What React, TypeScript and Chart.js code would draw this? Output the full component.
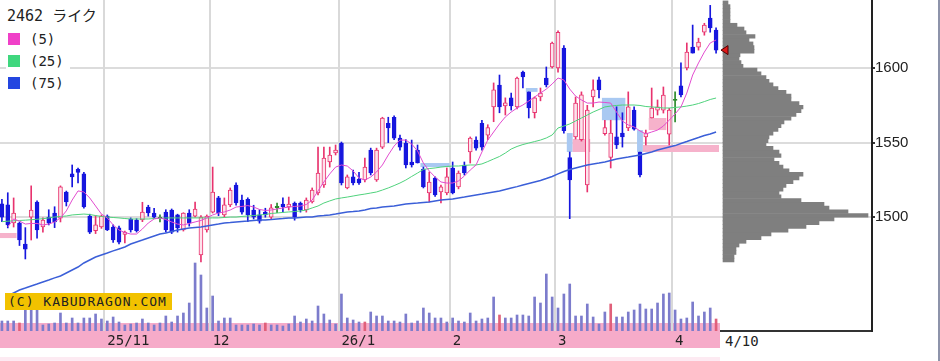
import React, { useEffect, useRef } from 'react';
import { Chart, registerables } from 'chart.js';

Chart.register(...registerables);

// ---- calendar (trading days shown) ----
const monthKeys = ['2025-10', '2025-11', '2025-12', '2026-01', '2026-02', '2026-03', '2026-04'];
const monthTickLabels = ['', '25/11', '12', '26/1', '2', '3', '4'];
const tradingDays = [
  [7, 8, 9, 10, 14, 15, 16, 17, 20, 21, 22, 23, 24, 27, 28, 29, 30, 31],
  [4, 5, 6, 7, 10, 11, 12, 13, 14, 17, 18, 19, 20, 21, 25, 26, 27, 28],
  [1, 2, 3, 4, 5, 8, 9, 10, 11, 12, 15, 16, 17, 18, 19, 22, 23, 24, 25, 26, 29, 30],
  [5, 6, 7, 8, 9, 13, 14, 15, 16, 19, 20, 21, 22, 23, 26, 27, 28, 29, 30],
  [2, 3, 4, 5, 6, 9, 10, 12, 13, 16, 17, 18, 19, 20, 24, 25, 26, 27],
  [2, 3, 4, 5, 6, 9, 10, 11, 12, 13, 16, 17, 18, 19, 23, 24, 25, 26, 27, 30],
  [1, 2, 3, 6, 7, 8, 9, 10],
];
const lastDateLabel = '4/10';

// ---- OHLC ----
const open = [
  1509, 1508.2, 1496.1, 1496, 1482, 1500, 1510.2, 1493.4, 1500, 1502.8,
  1499.3, 1516.9, 1529, 1532, 1529, 1500.7, 1491, 1493.4, 1500.7, 1493.4,
  1492.8, 1488.5, 1498.8, 1498, 1498.1, 1506.8, 1502.8, 1499.5, 1503.4, 1504.8,
  1501.5, 1491.4, 1502.8, 1500.7, 1474.7, 1491.4, 1503.4, 1512.9, 1501.5, 1508.2,
  1521.6, 1511.5, 1512, 1504.8, 1501.5, 1503.4, 1500, 1506.8, 1508.8, 1506.8,
  1509.5, 1509.5, 1504.8, 1510.2, 1516.2, 1521.6, 1537, 1543, 1549.7, 1519.6,
  1527, 1525.6, 1524.9, 1545, 1524.9, 1547, 1563, 1567, 1553, 1549.7,
  1537, 1545, 1532.3, 1516.2, 1526.3, 1516.9, 1516.2, 1533, 1520.3, 1535,
  1543.7, 1551.7, 1563, 1555, 1574, 1588.6, 1574.6, 1580, 1574, 1597.3,
  1584, 1570, 1580.6, 1593.3, 1600.7, 1600, 1613.4, 1540, 1553.8, 1552,
  1521.6, 1580.6, 1592, 1556, 1540, 1553.8, 1556.4, 1559.8, 1571.8, 1543.7,
  1553.8, 1566.5, 1571.8, 1571.8, 1555.7, 1578.6, 1588, 1600, 1614, 1614,
  1624, 1633.5, 1625.5,
];
const high = [
  1512, 1516.4, 1512.9, 1496.8, 1493, 1521, 1511, 1499.5, 1505, 1507,
  1521, 1517.5, 1535, 1533, 1530, 1502, 1501, 1501.5, 1501.5, 1494.8,
  1494, 1490.7, 1499.5, 1499, 1510, 1508, 1506, 1501.5, 1505, 1505.5,
  1502, 1503, 1505, 1510.2, 1501, 1501.5, 1533.6, 1514, 1512.9, 1519.6,
  1523, 1514.9, 1513, 1508, 1505, 1506, 1508.5, 1509.5, 1512.9, 1513.5,
  1510.2, 1510.2, 1512.9, 1519.6, 1547, 1547, 1547, 1548.4, 1550.4, 1528.3,
  1531.6, 1530, 1539.7, 1546.3, 1546.3, 1567, 1567, 1568, 1555, 1552,
  1551.7, 1548.4, 1533.6, 1530.3, 1527, 1521.6, 1533, 1537, 1531, 1537,
  1553.8, 1553.8, 1565, 1562, 1590, 1595.3, 1580, 1583.2, 1594, 1598,
  1584, 1580.6, 1586.6, 1600.7, 1617.4, 1625, 1615, 1543.7, 1580.6, 1584,
  1575, 1592, 1594, 1565, 1565, 1574, 1570, 1584, 1574, 1543.7,
  1558.4, 1586.6, 1578.6, 1587.3, 1573, 1584, 1603.4, 1616.8, 1628.8, 1620,
  1630, 1642, 1627,
];
const low = [
  1497, 1492.8, 1493.4, 1481, 1472, 1484.7, 1486, 1490, 1494.8, 1493,
  1496.8, 1507.5, 1520.3, 1523, 1506, 1489, 1489, 1492.5, 1491, 1483,
  1482, 1482.7, 1490, 1490, 1497, 1500.7, 1499, 1496.8, 1490, 1489,
  1490, 1490.7, 1494, 1500, 1470, 1490, 1502.8, 1501, 1500, 1507,
  1508, 1502, 1497, 1498.8, 1496, 1500, 1499, 1503, 1503.4, 1504.8,
  1498, 1503.4, 1503.4, 1509.5, 1515, 1520, 1533.6, 1541.7, 1521.6, 1519,
  1521.6, 1522, 1523.6, 1528.3, 1524, 1546, 1550, 1552, 1545, 1533,
  1533.6, 1536.3, 1519.6, 1510.2, 1514, 1509.5, 1515, 1515.6, 1519, 1528.3,
  1536.3, 1545, 1545, 1552, 1564, 1570, 1568.5, 1571.8, 1572.5, 1586.6,
  1566.5, 1566.5, 1578, 1587.3, 1600, 1597.3, 1556.4, 1499, 1552.4, 1551,
  1516.9, 1573.9, 1580, 1555, 1533, 1546, 1547, 1558, 1558.4, 1527,
  1548.4, 1566.5, 1568.5, 1569.8, 1548.4, 1563.8, 1580.6, 1598.7, 1610, 1612,
  1622, 1624, 1610,
];
const close = [
  1500, 1494.8, 1502.8, 1484.7, 1478.5, 1504.8, 1491.4, 1498.1, 1496, 1496.8,
  1520.3, 1510.2, 1527, 1530, 1506.8, 1490, 1494.8, 1500.7, 1491.4, 1484.7,
  1483.3, 1490, 1491.4, 1491, 1503.4, 1502.8, 1500, 1499.5, 1491.4, 1490,
  1492.8, 1502.8, 1496, 1505.5, 1500, 1500.7, 1516.9, 1502.8, 1508.2, 1518.2,
  1509.5, 1503.4, 1501.5, 1500, 1497.4, 1501.5, 1506.2, 1506.8, 1506.8, 1508.8,
  1500, 1504.8, 1511.5, 1518.2, 1529.6, 1539.7, 1541.7, 1545, 1523, 1527,
  1523, 1523, 1533.6, 1529.6, 1545, 1566.5, 1559.8, 1553, 1547, 1535,
  1535, 1536.3, 1520.3, 1523.6, 1515, 1520.3, 1527, 1516.2, 1529.6, 1529.6,
  1553, 1546.3, 1547, 1560, 1585.3, 1574, 1576.6, 1574.6, 1593.3, 1594,
  1573.2, 1580, 1583.2, 1588.6, 1616.8, 1624, 1558, 1525, 1576.5, 1582,
  1571.8, 1585.3, 1585.3, 1560, 1556.4, 1548.4, 1553.8, 1573.9, 1559, 1528.3,
  1556.4, 1573.2, 1573.9, 1581.9, 1571.8, 1578.6, 1582, 1610.7, 1610, 1617.4,
  1628.8, 1626.8, 1612,
];

// ---- moving averages ----
const ma5 = [
  null, 1493.4, 1498.8, 1497.4, 1495.4, 1495.8, 1495.8, 1494.8, 1495.4, 1496.8,
  1499.5, 1504.2, 1511.5, 1517.6, 1516.9, 1512.9, 1507.5, 1502.1, 1499.5, 1494.8,
  1491.4, 1489.7, 1488.7, 1488.7, 1492.1, 1496.1, 1498.8, 1499.5, 1498.4, 1496.8,
  1495.4, 1494.8, 1495.8, 1496.8, 1497.8, 1499.5, 1501.5, 1502.8, 1503.5, 1504.8,
  1506.8, 1507.2, 1507.8, 1506.8, 1505.2, 1504.5, 1504.8, 1505.5, 1506.2, 1506.8,
  1507.2, 1507.5, 1508.5, 1511.5, 1517.6, 1523.6, 1529, 1533.6, 1535, 1534.3,
  1531, 1526.3, 1524.9, 1526.9, 1530.3, 1535, 1541.7, 1547.7, 1551.7, 1551.7,
  1549.1, 1544.4, 1536.3, 1531, 1526.9, 1523.6, 1522.9, 1522.9, 1524.3, 1527.6,
  1531.6, 1535, 1543.7, 1551.7, 1557.1, 1562.5, 1567.2, 1570.5, 1573.2, 1575.2,
  1577.9, 1580.6, 1583.2, 1585.9, 1589.3, 1593.3, 1592, 1585.9, 1581.2, 1578.6,
  1576.5, 1576.5, 1577.2, 1576.9, 1576.5, 1570.5, 1564.5, 1561.8, 1560.5, 1557.8,
  1555.8, 1557.1, 1558.4, 1561.1, 1565.1, 1569.2, 1573.9, 1583.2, 1595.3, 1603.4,
  1610.7, 1616.8, 1618.8,
];
const ma25 = [
  1497, 1497.3, 1497.6, 1497.8, 1498, 1498.3, 1498.6, 1499, 1499.5, 1500.1,
  1500.5, 1500.8, 1501.5, 1501.8, 1502.1, 1501.8, 1501.1, 1500.5, 1500.1, 1499.8,
  1499.5, 1499.1, 1498.8, 1498.8, 1498.8, 1498.8, 1499.1, 1499.1, 1499.5, 1499.5,
  1499.5, 1499.5, 1499.5, 1499.5, 1499.5, 1499.5, 1499.5, 1499.5, 1499.8, 1500.1,
  1500.1, 1500.5, 1500.8, 1501.1, 1501.5, 1501.8, 1502.5, 1502.8, 1503.2, 1503.5,
  1503.8, 1504.2, 1504.8, 1506.2, 1507.5, 1509.5, 1510.9, 1512.2, 1512.9, 1513.5,
  1514.2, 1514.9, 1515.5, 1516.2, 1516.9, 1518.2, 1519.6, 1521.2, 1522.9, 1524.9,
  1527.3, 1529.6, 1532, 1532.6, 1533, 1533.6, 1534, 1534.3, 1534.3, 1534.7,
  1535, 1535, 1535.7, 1537.3, 1539, 1540.7, 1543, 1545.7, 1547.4, 1548.7,
  1549.7, 1550.7, 1551.7, 1553.1, 1555.1, 1559.8, 1561.1, 1562.5, 1564.5, 1566.5,
  1568.5, 1570.5, 1572.2, 1573.9, 1574.5, 1574.9, 1575.2, 1575.2, 1575.2, 1574.9,
  1574.2, 1573.9, 1573.6, 1573.2, 1573.2, 1573.6, 1573.9, 1574.5, 1575.2, 1576.2,
  1577.5, 1578.9, 1579.9,
];
const ma75 = [
  null, 1447.2, 1449.2, 1451.2, 1452.5, 1453.9, 1455.2, 1456.6, 1457.9, 1459.3,
  1460.6, 1462.6, 1464.6, 1466.6, 1469.3, 1471.3, 1473.3, 1474.7, 1476, 1477.4,
  1478.7, 1480, 1482, 1483.4, 1484.7, 1486.1, 1487.4, 1488.7, 1489.4, 1490.4,
  1491.4, 1492.1, 1492.8, 1493.1, 1493.4, 1494.1, 1494.8, 1495.4, 1496.1, 1496.4,
  1496.8, 1497.1, 1497.4, 1497.8, 1498.1, 1498.1, 1498.4, 1498.8, 1499.1, 1499.5,
  1499.5, 1499.8, 1500.1, 1500.1, 1500.8, 1501.1, 1501.5, 1502.1, 1502.8, 1503.5,
  1503.8, 1504.2, 1504.8, 1505.8, 1506.2, 1506.8, 1507.2, 1507.5, 1508.2, 1508.8,
  1509.2, 1509.5, 1509.9, 1510.2, 1510.9, 1511.5, 1511.9, 1512.2, 1512.9, 1513.5,
  1514.2, 1514.9, 1515.5, 1516.2, 1516.9, 1517.6, 1518.6, 1519.6, 1520.5, 1521.6,
  1522.6, 1523.6, 1524.6, 1525.9, 1527.3, 1529, 1530.6, 1532, 1533, 1534,
  1535, 1535.7, 1536.3, 1537, 1538, 1539, 1539.7, 1540.3, 1541, 1541.7,
  1542.7, 1543.7, 1545, 1546, 1547, 1548, 1549.4, 1550.7, 1552.1, 1553.4,
  1554.8, 1555.8, 1557.1,
];

// ---- volume (shares) ----
const volume = [
  5000,
  5000, 5000, 4000, 10500, 10500, 10500, 3000, 3500, 4000, 9000,
  4000, 6500, 4000, 6500, 6500, 8500, 6000, 5000, 7000, 4500,
  3000, 3500, 4000, 6000, 4000, 3000, 4000, 7500, 4500, 7500,
  9000, 14000, 34000, 28000, 11500, 17500, 5000, 6500, 6500, 3000,
  3000, 3000, 3500, 3000, 4000, 3000, 3000, 2500, 3500, 7500,
  4500, 6000, 5000, 12500, 8500, 5500, 3500, 18500, 6500, 5500,
  4500, 4500, 9500, 7500, 7500, 5000, 5000, 4500, 8500, 4000,
  5000, 11500, 9000, 6500, 6500, 4500, 6500, 5000, 4500, 9000,
  5000,
  6000, 6500, 17000, 8000, 6500, 6500, 8000, 8000, 7500, 17000,
  14000, 28500, 17000, 11500, 18500, 23500, 7500, 7500, 13500, 7000,
  3500, 9500, 13500, 7000, 7000, 9500, 10500, 13500, 11000, 11000,
  14000, 18500, 19000, 10500, 6000, 6500, 14500, 7500, 9500, 11500,
  6000,
];
const volumeRedDays = [3, 45, 62, 85, 104, 122];

// ---- price-by-volume profile (bins of 2.5 from 1470) ----
const profileStart = 1470;
const profileStep = 2.5;
const profileVolume = [
  1100, 1100, 1300, 1300, 1600, 2300, 3800, 4800, 6500, 8300,
  9600, 11100, 14500, 12500, 10600, 10100, 7800, 5800, 5600, 6000,
  6300, 7000, 7600, 8000, 6600, 6000, 5600, 5100, 5800, 5600,
  5000, 4300, 4500, 4600, 5000, 5500, 5800, 6100, 6800, 7300,
  7800, 8000, 7600, 6800, 6800, 6300, 5500, 5000, 4600, 4300,
  3800, 3400, 2000, 1800, 1600, 1700, 3100, 3100, 3000, 2600,
  3200, 2300, 2100, 1400, 700, 700, 700, 700, 700, 500,
];

// ---- price gaps (窓) ----
const gapStart = [0, 72, 90, 97, 98, 103, 109, 110, 111];
const gapEnd = [2, 76, 91, 97, 100, 106, 109, 122, 113];
const gapLow = [1486, 1533.6, 1584, 1543.7, 1543.7, 1565, 1543.7, 1543.7, 1558.4];
const gapHigh = [1489.4, 1536.3, 1586.6, 1556.4, 1552.4, 1580, 1558.4, 1548.4, 1566.5];
const gapUp = [true, false, false, false, true, false, false, true, true];

const priceTicks = [1500, 1550, 1600];
const Y_MIN = 1423.7;
const Y_MAX = 1645.6;
const VOL_MAX = 165500;
const PROFILE_MAX = 14900;

const UP = '#e8336e';
const UP_FILL = '#fde3ec';
const DOWN = '#1616de';
const DOJI = '#2a8a2a';
const MONO = '"DejaVu Sans Mono", monospace';

export default function App() {
  const refA = useRef<HTMLCanvasElement>(null);
  const refB = useRef<HTMLCanvasElement>(null);

  useEffect(() => {
    const labels: string[] = [];
    const tickText: string[] = [];
    monthKeys.forEach((mk, mi) => {
      tradingDays[mi].forEach((d, di) => {
        labels.push(`${mk}-${String(d).padStart(2, '0')}`);
        tickText.push(di === 0 ? monthTickLabels[mi] : '');
      });
    });
    const isMonthStart = (i: number) => !!tickText[i];

    const dir = close.map((c, i) => (c > open[i] ? 1 : c < open[i] ? -1 : 0));
    const lineCol = dir.map((d) => (d > 0 ? UP : d < 0 ? DOWN : DOJI));
    const bodyFill = dir.map((d) => (d > 0 ? UP_FILL : d < 0 ? DOWN : DOJI));
    const bodies = open.map((o, i) =>
      dir[i] === 0 ? [o - 0.4, o + 0.4] : [Math.min(o, close[i]), Math.max(o, close[i])]
    );
    const wicks = low.map((l, i) => [l, high[i]]);
    const volCol = volume.map((_, i) => (volumeRedDays.includes(i) ? '#e0607a' : '#7c7ccc'));

    const gapPlugin = {
      id: 'gaps',
      beforeDatasetsDraw(chart: any) {
        const { ctx, chartArea, scales } = chart;
        const xs = scales.x;
        const ys = scales.y;
        const half = (xs.getPixelForValue(1) - xs.getPixelForValue(0)) / 2;
        ctx.save();
        ctx.beginPath();
        ctx.rect(chartArea.left, chartArea.top, chartArea.width, chartArea.height);
        ctx.clip();
        gapStart.forEach((s, i) => {
          const x0 = xs.getPixelForValue(s) - half;
          const x1 = xs.getPixelForValue(gapEnd[i]) + half;
          const y0 = ys.getPixelForValue(gapHigh[i]);
          const y1 = ys.getPixelForValue(gapLow[i]);
          ctx.fillStyle = gapUp[i] ? '#f6b2cb' : '#a9c9f2';
          ctx.fillRect(x0, y0, x1 - x0, y1 - y0);
        });
        ctx.restore();
      },
    };

    const markerPlugin = {
      id: 'lastMarker',
      afterDatasetsDraw(chart: any) {
        const { ctx, scales } = chart;
        const y = scales.y.getPixelForValue(close[close.length - 1]);
        const x = scales.x.getPixelForValue(0) - 2;
        ctx.save();
        ctx.beginPath();
        ctx.moveTo(x, y);
        ctx.lineTo(x + 7, y - 4.5);
        ctx.lineTo(x + 7, y + 4.5);
        ctx.closePath();
        ctx.fillStyle = '#e01818';
        ctx.fill();
        ctx.strokeStyle = '#500000';
        ctx.lineWidth = 1;
        ctx.stroke();
        ctx.restore();
      },
    };

    const profileData = profileVolume.map((v, i) => ({
      x: v,
      y: profileStart + profileStep * (i + 0.5),
    }));

    const noPad = (s: any) => {
      s.paddingTop = 0;
      s.paddingBottom = 0;
      s.paddingLeft = 0;
      s.paddingRight = 0;
    };

    const chartB = new Chart(refB.current as HTMLCanvasElement, {
      type: 'bar',
      data: {
        datasets: [
          {
            data: profileData as any,
            backgroundColor: '#7f7f7f',
            barPercentage: 1,
            categoryPercentage: 1,
            borderWidth: 0,
          },
        ],
      },
      options: {
        indexAxis: 'y',
        responsive: false,
        animation: false,
        events: [],
        layout: { padding: 0 },
        plugins: { legend: { display: false }, tooltip: { enabled: false } },
        scales: {
          x: {
            type: 'linear',
            offset: false,
            min: -(723 / 149) * PROFILE_MAX,
            max: PROFILE_MAX,
            grid: { display: false, drawTicks: false },
            ticks: { display: false },
            border: { display: true, color: '#333', width: 2 },
            afterFit: (s: any) => {
              s.height = 2;
              noPad(s);
            },
          },
          y: {
            type: 'linear',
            position: 'right',
            offset: false,
            min: Y_MIN,
            max: Y_MAX,
            afterBuildTicks: (s: any) => {
              s.ticks = priceTicks.map((v) => ({ value: v }));
            },
            grid: { offset: false, color: '#dcdcdc', lineWidth: 2, tickColor: '#333', tickLength: 3 },
            border: { display: true, color: '#222', width: 2 },
            ticks: {
              font: { family: '"Liberation Sans", Arial, sans-serif', size: 15 },
              color: '#222',
              padding: 0,
              callback: (v: any) => String(v),
            },
            afterFit: (s: any) => {
              s.width = 68;
              noPad(s);
            },
          },
        },
      },
      plugins: [markerPlugin],
    } as any);

    const chartA = new Chart(refA.current as HTMLCanvasElement, {
      type: 'bar',
      data: {
        labels,
        datasets: [
          {
            type: 'line',
            data: ma5,
            borderColor: '#e24ccf',
            borderWidth: 1,
            pointRadius: 0,
            order: 1,
          },
          {
            type: 'line',
            data: ma25,
            borderColor: '#4fd27c',
            borderWidth: 1,
            pointRadius: 0,
            order: 1,
          },
          {
            type: 'line',
            data: ma75,
            borderColor: '#3b5fd8',
            borderWidth: 1.5,
            pointRadius: 0,
            order: 1,
          },
          {
            type: 'bar',
            data: bodies as any,
            backgroundColor: bodyFill,
            borderColor: lineCol,
            borderWidth: 1,
            borderSkipped: false,
            barThickness: 4,
            grouped: false,
            order: 3,
          },
          {
            type: 'bar',
            data: wicks as any,
            backgroundColor: lineCol,
            borderWidth: 0,
            barThickness: 1,
            grouped: false,
            order: 4,
          },
          {
            type: 'bar',
            data: volume,
            yAxisID: 'yv',
            backgroundColor: volCol,
            borderWidth: 0,
            barThickness: 2,
            grouped: false,
            order: 5,
          },
        ],
      },
      options: {
        responsive: false,
        animation: false,
        events: [],
        layout: { padding: 0 },
        plugins: { legend: { display: false }, tooltip: { enabled: false } },
        scales: {
          x: {
            type: 'category',
            offset: true,
            grid: {
              offset: true,
              drawTicks: false,
              lineWidth: 2,
              color: (ctx: any) => (isMonthStart(ctx.index) ? '#d9d9d9' : 'rgba(0,0,0,0)'),
            },
            border: { display: false },
            ticks: {
              autoSkip: false,
              maxRotation: 0,
              minRotation: 0,
              align: 'start',
              padding: 2,
              color: '#222',
              font: { family: MONO, size: 14 },
              callback: (_v: any, i: number) => tickText[i],
            },
            afterFit: (s: any) => {
              s.height = 17;
              noPad(s);
            },
          },
          y: { display: false, min: Y_MIN, max: Y_MAX },
          yv: { display: false, min: 0, max: VOL_MAX },
        },
      },
      plugins: [gapPlugin],
    } as any);

    return () => {
      chartA.destroy();
      chartB.destroy();
    };
  }, []);

  const legendItems = [
    { color: '#f040c8', text: '(5)' },
    { color: '#3fd77e', text: '(25)' },
    { color: '#2346e0', text: '(75)' },
  ];

  return (
    <div
      style={{
        position: 'absolute',
        left: 0,
        top: 0,
        width: 940,
        height: 361,
        background: '#fff',
        overflow: 'hidden',
      }}
    >
      <canvas
        ref={refB}
        width={940}
        height={333}
        style={{ position: 'absolute', left: 0, top: 0, width: 940, height: 333 }}
      />
      <div
        style={{ position: 'absolute', left: 0, top: 323, width: 720, height: 25, background: '#f6abc9' }}
      />
      <div
        style={{ position: 'absolute', left: 0, top: 357, width: 720, height: 4, background: '#fdeaf2' }}
      />
      <canvas
        ref={refA}
        width={720}
        height={348}
        style={{ position: 'absolute', left: -1, top: 0, width: 720, height: 348 }}
      />
      <div
        style={{
          position: 'absolute',
          left: 6,
          top: 6,
          padding: '1px 3px 2px 1px',
          background: '#fff',
          fontFamily: '"DejaVu Sans Mono", "Noto Sans CJK JP", monospace',
          fontSize: 15,
          color: '#222',
          lineHeight: '19px',
          whiteSpace: 'nowrap',
        }}
      >
        2462 ライク
      </div>
      <div
        style={{
          position: 'absolute',
          left: 6,
          top: 29,
          width: 64,
          height: 66,
          background: '#fff',
        }}
      >
        {legendItems.map((it, i) => (
          <div
            key={i}
            style={{ position: 'absolute', left: 2, top: 4 + i * 22, height: 12, display: 'flex', alignItems: 'center' }}
          >
            <span style={{ display: 'inline-block', width: 12, height: 12, background: it.color }} />
            <span
              style={{
                marginLeft: 10,
                fontFamily: MONO,
                fontSize: 14,
                color: '#222',
                lineHeight: '12px',
              }}
            >
              {it.text}
            </span>
          </div>
        ))}
      </div>
      <div
        style={{
          position: 'absolute',
          left: 5,
          top: 293,
          width: 167,
          height: 17,
          background: '#f2c200',
          fontFamily: MONO,
          fontSize: 13,
          letterSpacing: 1,
          lineHeight: '17px',
          color: '#222',
          paddingLeft: 3,
          boxSizing: 'border-box',
          whiteSpace: 'nowrap',
        }}
      >
        (C) KABUDRAGON.COM
      </div>
      <div
        style={{
          position: 'absolute',
          left: 725,
          top: 333,
          fontFamily: MONO,
          fontSize: 14,
          color: '#222',
          lineHeight: '16px',
        }}
      >
        {lastDateLabel}
      </div>
      <div style={{ position: 'absolute', left: 938, top: 0, width: 2, height: 361, background: '#8d93aa' }} />
    </div>
  );
}
